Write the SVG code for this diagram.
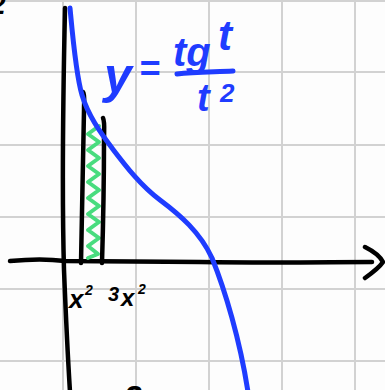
<svg xmlns="http://www.w3.org/2000/svg" width="385" height="390" viewBox="0 0 385 390">
<style>
.grid{stroke:#d2d2d2;stroke-width:2;fill:none}
.ink{stroke:#000;stroke-width:4.5;fill:none;stroke-linecap:round;stroke-linejoin:round}
.blue{stroke:#1f3cff;stroke-width:5;fill:none;stroke-linecap:round;stroke-linejoin:round}
.green{stroke:#48dc7e;stroke-width:4;fill:none;stroke-linecap:round;stroke-linejoin:round}
.bt{font-family:"Liberation Sans",Arial,sans-serif;font-style:italic;font-weight:bold;fill:#1f3cff}
.kt{font-family:"Liberation Sans",Arial,sans-serif;font-style:italic;font-weight:bold;fill:#000}
</style>
<rect width="385" height="390" fill="#fdfdfd"/>
<g id="grid">
<path class="grid" d="M63,0V390M136,0V390M209,0V390M282,0V390M355,0V390M0,1H385M0,72H385M0,145H385M0,217H385M0,289H385M0,361H385"/>
</g>
<g id="axes">
<path class="ink" d="M65,8 C63,100 62,200 64,270 C66,320 68,360 70,392"/>
<path class="ink" d="M10,261 C30,259 50,259 65,261 L200,262 C280,263 330,262 372,262"/>
<path class="ink" d="M365,247 C375,252 381,258 383,262 C379,268 372,273 365,278"/>
</g>
<g id="area">
<path class="green" d="M99,126 L88,134 L99,142 L88,150 L99,158 L88,166 L99,174 L88,182 L99,190 L88,198 L99,206 L88,214 L99,222 L88,230 L99,238 L88,246 L98,254 L88,258"/>
<path class="ink" d="M83,92 C85,95 84,100 84,110 C83,160 82,210 81,263"/>
<path class="ink" d="M103,118 C105,122 104,130 104,140 C104,190 103,230 102,263"/>
</g>
<g id="curve">
<path class="blue" d="M70,8 C73,40 76,75 82,95 C88,115 100,132 112,148 C125,165 140,185 160,200 C180,215 200,232 212,258 C225,290 240,340 248,392"/>
</g>
<g id="formula">
<text class="bt" x="104" y="93" font-size="50">y</text>
<text class="bt" x="139" y="81" font-size="36">=</text>
<text class="bt" x="173" y="66" font-size="40">tg</text>
<text class="bt" x="218" y="50" font-size="42">t</text>
<path class="blue" d="M177,74 C195,72 215,72 233,71"/>
<text class="bt" x="197" y="111" font-size="38">t</text>
<text class="bt" x="220" y="102" font-size="26">2</text>
</g>
<g id="labels">
<text class="kt" x="69" y="308" font-size="26">x</text>
<text class="kt" x="85" y="295" font-size="14">2</text>
<text class="kt" x="108" y="301" font-size="20">3</text>
<text class="kt" x="121" y="306" font-size="24">x</text>
<text class="kt" x="138" y="294" font-size="14">2</text>
<text class="kt" x="-10" y="14" font-size="28">2</text>
<text class="kt" x="124" y="408" font-size="32">2</text>
</g>
</svg>
